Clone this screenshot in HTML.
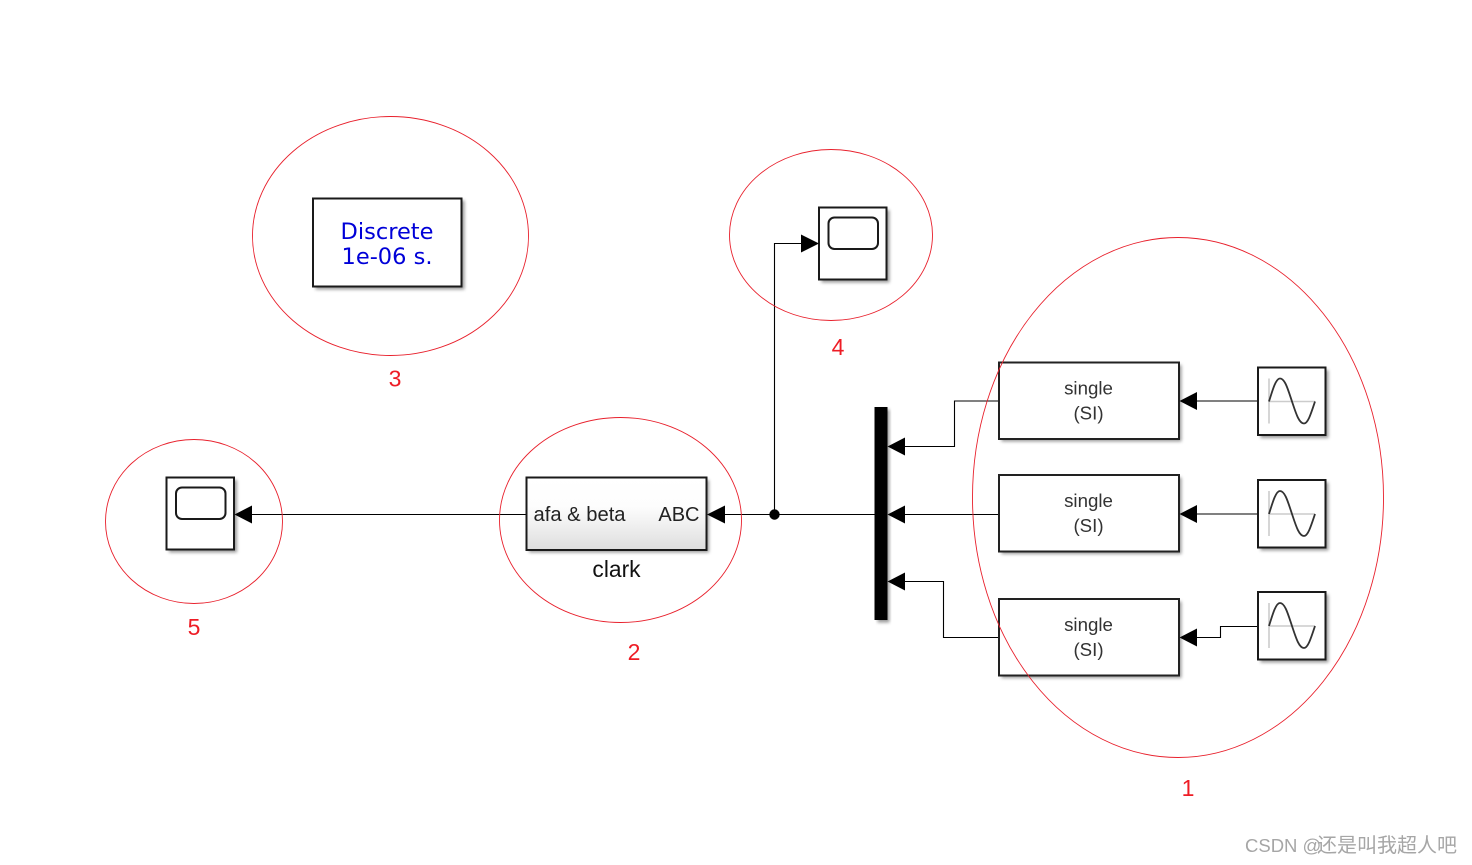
<!DOCTYPE html>
<html>
<head>
<meta charset="utf-8">
<style>
html,body{margin:0;padding:0;background:#fff;width:1472px;height:865px;overflow:hidden}
svg{display:block}
text{font-family:"Liberation Sans","Noto Sans CJK SC",sans-serif}
</style>
</head>
<body>
<svg width="1472" height="865" viewBox="0 0 1472 865" xmlns="http://www.w3.org/2000/svg">
<defs>
<filter id="sh" x="-15%" y="-15%" width="130%" height="130%">
<feGaussianBlur stdDeviation="1.6"/>
</filter>
<linearGradient id="gr" x1="0" y1="0" x2="0" y2="1">
<stop offset="0" stop-color="#fff"/>
<stop offset="0.4" stop-color="#fdfdfd"/>
<stop offset="1" stop-color="#dedede"/>
</linearGradient>
<g id="sine">
<rect x="2.5" y="2.5" width="68" height="68" fill="#777" filter="url(#sh)" opacity=".75"/>
<rect x="0" y="0" width="67.500" height="67.500" fill="#fff" stroke="#1a1a1a" stroke-width="2"/>
<path d="M11 11V56M11 34H57" stroke="#ccc" stroke-width="1.6" fill="none"/>
<path d="M11 34C15 21 18 11 22 11C27 11 30 22 34 34C38 46 41 56 46 56C50 56 53 46 57 34" stroke="#333" stroke-width="1.8" fill="none"/>
</g>
<g id="scope">
<rect x="2.5" y="2.5" width="68" height="72.5" fill="#777" filter="url(#sh)" opacity=".75"/>
<rect x="0" y="0" width="67.500" height="72" fill="#fff" stroke="#1a1a1a" stroke-width="2"/>
<rect x="9.5" y="10" width="49.500" height="31.500" rx="6" ry="6" fill="#fff" stroke="#1a1a1a" stroke-width="2"/>
</g>
<g id="single">
<rect x="2.5" y="2.5" width="180" height="76.5" fill="#777" filter="url(#sh)" opacity=".75"/>
<rect x="0" y="0" width="180" height="76.5" fill="#fff" stroke="#222" stroke-width="2"/>
<text x="89.500" y="32" font-size="18.700" text-anchor="middle" fill="#333">single</text>
<text x="89.500" y="57" font-size="18.700" text-anchor="middle" fill="#333">(SI)</text>
</g>
</defs>

<!-- wires -->
<g fill="none" stroke="#000" stroke-width="1.1">
<path d="M250 514.500H526.500"/>
<path d="M724 514.500H875"/>
<path d="M774.500 514.500V243.500H803"/>
<path d="M904 514.500H999"/>
<path d="M904 446.500H954.500V401H999"/>
<path d="M904 581.500H943.500V637.500H999"/>
<path d="M1196 401H1258"/>
<path d="M1196 514H1258"/>
<path d="M1197 637.500H1220.500V626.500H1258"/>
</g>

<!-- junction -->
<circle cx="774.500" cy="514.500" r="5.200" fill="#000"/>

<!-- discrete block -->
<rect x="315.500" y="200.500" width="149" height="89" fill="#777" filter="url(#sh)" opacity=".75"/>
<rect x="313" y="198.500" width="148.500" height="88" fill="#fff" stroke="#1a1a1a" stroke-width="2"/>
<text x="387" y="239" font-size="22.500" text-anchor="middle" fill="#0000d8" style="font-family:'DejaVu Sans',sans-serif">Discrete</text>
<text x="387" y="264" font-size="22.500" text-anchor="middle" fill="#0000d8" style="font-family:'DejaVu Sans',sans-serif">1e-06 s.</text>

<!-- scopes -->
<use href="#scope" x="819" y="207.500"/>
<use href="#scope" x="166.500" y="477.500"/>

<!-- clark -->
<rect x="529" y="480" width="180" height="72.500" fill="#777" filter="url(#sh)" opacity=".75"/>
<rect x="526.500" y="477.500" width="180" height="72.500" fill="url(#gr)" stroke="#1a1a1a" stroke-width="2"/>
<text x="533.500" y="521" font-size="20.200" fill="#222">afa &amp; beta</text>
<text x="699.500" y="521" font-size="20" fill="#222" text-anchor="end">ABC</text>
<text x="616.500" y="577" font-size="22.800" fill="#111" text-anchor="middle">clark</text>

<!-- mux -->
<rect x="877.500" y="409.500" width="12" height="213" fill="#777" filter="url(#sh)" opacity=".75"/>
<rect x="874.500" y="407" width="13" height="213" fill="#000"/>

<!-- single blocks -->
<use href="#single" x="999" y="362.500"/>
<use href="#single" x="999" y="475"/>
<use href="#single" x="999" y="599"/>

<!-- sine blocks -->
<use href="#sine" x="1258" y="367.500"/>
<use href="#sine" x="1258" y="480"/>
<use href="#sine" x="1258" y="592"/>

<!-- arrowheads -->
<g fill="#000">
<path d="M234.500 514.500L252 505.500V523.500Z"/>
<path d="M707 514.500L725 505.500V523.500Z"/>
<path d="M819 243.500L801 234.500V252.500Z"/>
<path d="M887.500 446.500L905 437.500V455.500Z"/>
<path d="M887.500 514.500L905 505.500V523.500Z"/>
<path d="M887.500 581.500L905 572.500V590.500Z"/>
<path d="M1179.500 401L1197 392V410Z"/>
<path d="M1179.500 514L1197 505V523Z"/>
<path d="M1179.500 637.500L1197 628.500V646.500Z"/>
</g>

<!-- red annotation ellipses -->
<g fill="none" stroke="#e8202c" stroke-width="0.9">
<ellipse cx="1178" cy="497.500" rx="205.500" ry="260"/>
<ellipse cx="620.500" cy="520" rx="121" ry="102.500"/>
<ellipse cx="390.500" cy="236" rx="138" ry="119.500"/>
<ellipse cx="831" cy="235" rx="101.500" ry="85.500"/>
<ellipse cx="194" cy="521.500" rx="88.500" ry="82"/>
</g>

<!-- red labels -->
<g fill="#ee1c25" font-size="23" text-anchor="middle">
<text x="1188" y="796">1</text>
<text x="634" y="660">2</text>
<text x="395" y="386.500">3</text>
<text x="838" y="355">4</text>
<text x="194" y="635">5</text>
</g>

<!-- watermark -->
<text x="1245" y="852" font-size="18.500" fill="#a6a6a6">CSDN @</text>
<text x="1317" y="852" font-size="20" fill="#a6a6a6">还是叫我超人吧</text>
</svg>
</body>
</html>
